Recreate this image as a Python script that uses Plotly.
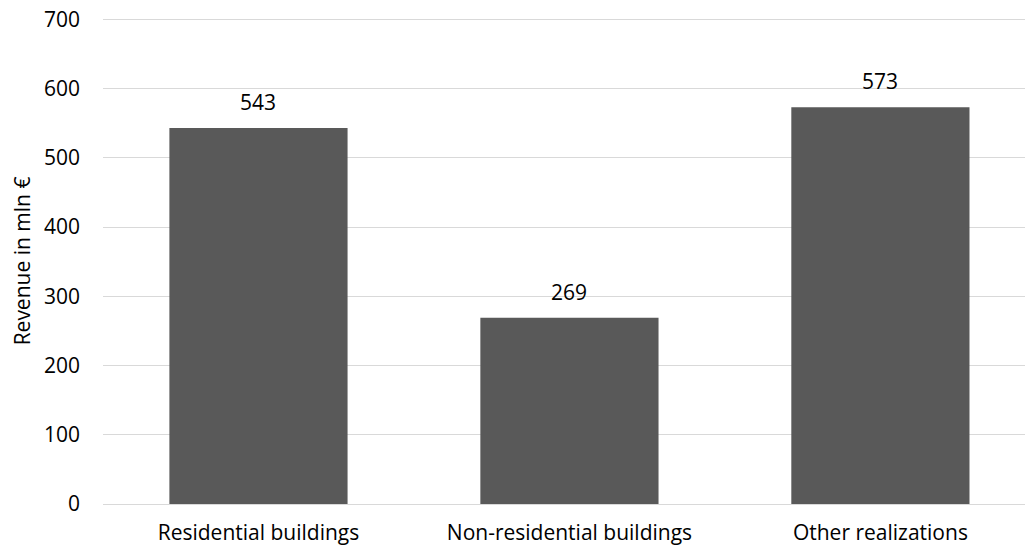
import plotly.graph_objects as go

categories = ["Residential buildings", "Non-residential buildings", "Other realizations"]
revenue = [543, 269, 573]
y_ticks = [0, 100, 200, 300, 400, 500, 600, 700]

FONT = "Open Sans"
FS = 21

fig = go.Figure()
fig.add_trace(go.Bar(
    x=categories, y=revenue,
    marker=dict(color="#595959", line=dict(width=0)),
    width=0.573,
    hoverinfo="skip",
))
for c, v in zip(categories, revenue):
    fig.add_annotation(x=c, y=v, text=str(v), showarrow=False,
                       yanchor="bottom", yshift=10,
                       font=dict(family=FONT, size=FS, color="#000000"))

fig.update_layout(
    width=1025, height=547,
    margin=dict(l=103, r=0, t=18, b=43, autoexpand=False),
    paper_bgcolor="white", plot_bgcolor="white",
    font=dict(family=FONT, size=FS, color="#000000"),
    showlegend=False,
    xaxis=dict(range=[-0.5, 2.465], showgrid=False, showline=False,
               zeroline=False, ticks="", ticklabelstandoff=14,
               automargin=False, tickfont=dict(size=FS)),
    yaxis=dict(range=[0, 702], tickvals=y_ticks, showgrid=True,
               gridcolor="#d9d9d9", gridwidth=1.3, zeroline=True,
               zerolinecolor="#d9d9d9", zerolinewidth=1.3,
               ticks="", ticklabelstandoff=22, showline=False,
               automargin=False, ticklabeloverflow="allow",
               title=dict(text="Revenue in mln €", standoff=7,
                          font=dict(size=FS)),
               tickfont=dict(size=FS)),
)
fig.write_html(
    "out.html",
    config={"displayModeBar": False},
    post_script="document.body.style.margin='0';document.body.style.overflow='hidden';",
)
